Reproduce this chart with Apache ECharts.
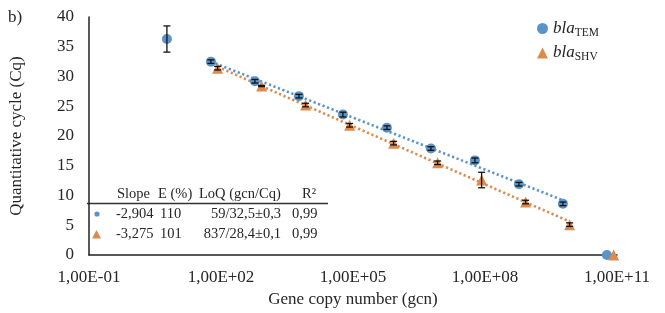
<!DOCTYPE html>
<html>
<head>
<meta charset="utf-8">
<script src="https://cdn.jsdelivr.net/npm/echarts@6/dist/echarts.min.js"></script>
<style>html,body{margin:0;padding:0;background:#fff}#c{width:665px;height:313px}</style>
</head>
<body>
<div id="c"></div>
<script>
// ---- data ----
const temGcn = [5.9, 59, 590, 5.9e3, 5.9e4, 5.9e5, 5.9e6, 5.9e7, 5.9e8, 5.9e9, 5.9e10];
const temCq  = [36.3, 32.5, 29.2, 26.7, 23.6, 21.4, 17.9, 15.9, 11.9, 8.6, 0];
const temSd  = [2.2, 0.3, 0.3, 0.3, 0.4, 0.3, 0.3, 0.4, 0.3, 0.3, 0];
const shvGcn = [83.7, 837, 8.37e3, 8.37e4, 8.37e5, 8.37e6, 8.37e7, 8.37e8, 8.37e9, 8.37e10];
const shvCq  = [31.4, 28.4, 25.2, 21.8, 18.8, 15.5, 12.6, 8.9, 5.1, 0];
const shvSd  = [0.3, 0.1, 0.3, 0.3, 0.3, 0.3, 1.3, 0.3, 0.3, 0];
const temFitIdx = [1, 9];   // points used for the trendline (first..last)
const shvFitIdx = [0, 8];
const xTickExp = [-1, 2, 5, 8, 11];
const xTickLabels = ['1,00E-01', '1,00E+02', '1,00E+05', '1,00E+08', '1,00E+11'];
const tableHeader = ['Slope', 'E (%)', 'LoQ (gcn/Cq)', 'R²'];
const tableTem = ['-2,904', '110', '59/32,5±0,3', '0,99'];
const tableShv = ['-3,275', '101', '837/28,4±0,1', '0,99'];

const BLUE = '#5b93c7', ORANGE = '#dc8a4e', TXT = '#262626';
const SERIF = '"Liberation Serif", "Times New Roman", serif';

function fit(xs, ys, a, b) {
  const lx = [], ly = [];
  for (let i = a; i <= b; i++) { lx.push(Math.log10(xs[i])); ly.push(ys[i]); }
  const n = lx.length;
  const mx = lx.reduce((s, v) => s + v, 0) / n, my = ly.reduce((s, v) => s + v, 0) / n;
  let sxy = 0, sxx = 0;
  for (let i = 0; i < n; i++) { sxy += (lx[i] - mx) * (ly[i] - my); sxx += (lx[i] - mx) ** 2; }
  const k = sxy / sxx, c = my - k * mx;
  return [[xs[a], k * lx[0] + c], [xs[b], k * lx[n - 1] + c]];
}
function errData(xs, ys, sd) {
  const out = [];
  for (let i = 0; i < xs.length; i++) if (sd[i] > 0) out.push([xs[i], ys[i] - sd[i], ys[i] + sd[i]]);
  return out;
}
function errRender(params, api) {
  const x = api.value(0);
  const top = api.coord([x, api.value(2)]);
  const bot = api.coord([x, api.value(1)]);
  const w = 3.5;
  const st = { stroke: '#111', lineWidth: 1.3 };
  return { type: 'group', children: [
    { type: 'line', shape: { x1: top[0], y1: top[1], x2: bot[0], y2: bot[1] }, style: st },
    { type: 'line', shape: { x1: top[0] - w, y1: top[1], x2: top[0] + w, y2: top[1] }, style: st },
    { type: 'line', shape: { x1: bot[0] - w, y1: bot[1], x2: bot[0] + w, y2: bot[1] }, style: st }
  ]};
}

const chart = echarts.init(document.getElementById('c'), null, { renderer: 'canvas' });

const colX = [116, 160, 281, 292];
const colAlign = ['left', 'left', 'right', 'left'];
const hdrX = [117, 158, 199, 302];
const TF = '14.5px ' + SERIF;
const graphics = [
  { type: 'text', x: 8, y: 18, style: { text: 'b)', font: '17px ' + SERIF, fill: TXT, verticalAlign: 'middle' } },
  { type: 'line', shape: { x1: 87, y1: 203.5, x2: 328, y2: 203.5 }, style: { stroke: '#333', lineWidth: 1.5 } },
  { type: 'circle', shape: { cx: 97, cy: 214, r: 2.6 }, style: { fill: BLUE } },
  { type: 'polygon', shape: { points: [[92, 238.5], [101, 238.5], [96.5, 230]] }, style: { fill: ORANGE } }
];
tableHeader.forEach((t, i) => graphics.push({ type: 'text', x: hdrX[i], y: 194,
  style: { text: t, font: TF, fill: TXT, verticalAlign: 'middle', align: 'left' } }));
tableTem.forEach((t, i) => graphics.push({ type: 'text', x: colX[i], y: 214,
  style: { text: t, font: TF, fill: TXT, verticalAlign: 'middle', align: colAlign[i] } }));
tableShv.forEach((t, i) => graphics.push({ type: 'text', x: colX[i], y: 234,
  style: { text: t, font: TF, fill: TXT, verticalAlign: 'middle', align: colAlign[i] } }));

chart.setOption({
  animation: false,
  backgroundColor: '#fff',
  grid: { left: 87, right: 48, top: 17, bottom: 58 },
  legend: {
    orient: 'vertical', left: 532, top: 15, itemGap: 6,
    data: [
      { name: 'blaTEM', icon: 'circle', itemStyle: { color: BLUE } },
      { name: 'blaSHV', icon: 'triangle', itemStyle: { color: ORANGE } }
    ],
    itemWidth: 11, itemHeight: 11,
    formatter: n => '{i|bla}{s|' + n.slice(3) + '}',
    textStyle: {
      rich: {
        i: { fontFamily: SERIF, fontStyle: 'italic', fontSize: 17, color: TXT },
        s: { fontFamily: SERIF, fontSize: 11.5, color: TXT, padding: [8, 0, 0, 0] }
      }
    }
  },
  xAxis: {
    type: 'log', logBase: 10, min: 0.1, max: 1e11, interval: 1,
    name: 'Gene copy number (gcn)', nameLocation: 'middle', nameGap: 33,
    nameTextStyle: { fontFamily: SERIF, fontSize: 17, color: TXT },
    axisLine: { show: true, lineStyle: { color: '#222', width: 1.5 } },
    axisTick: { show: false },
    splitLine: { show: false },
    axisLabel: {
      interval: 0, margin: 14, fontFamily: SERIF, fontSize: 17, color: TXT, hideOverlap: false,
      formatter: v => { const e = Math.round(Math.log10(v)); const k = xTickExp.indexOf(e); return k >= 0 ? xTickLabels[k] : ''; }
    }
  },
  yAxis: {
    type: 'value', min: 0, max: 40, interval: 5,
    name: 'Quantitative cycle (Cq)', nameLocation: 'middle', nameGap: 64,
    nameTextStyle: { fontFamily: SERIF, fontSize: 17, color: TXT },
    axisLine: { show: true, lineStyle: { color: '#222', width: 1.5 } },
    axisTick: { show: false },
    splitLine: { show: false },
    axisLabel: { margin: 15, fontFamily: SERIF, fontSize: 17, color: TXT }
  },
  series: [
    { name: 'blaTEM-fit', type: 'line', data: fit(temGcn, temCq, temFitIdx[0], temFitIdx[1]), symbol: 'none',
      lineStyle: { color: BLUE, width: 2.6, type: [2.2, 2.6] }, z: 1, silent: true },
    { name: 'blaSHV-fit', type: 'line', data: fit(shvGcn, shvCq, shvFitIdx[0], shvFitIdx[1]), symbol: 'none',
      lineStyle: { color: ORANGE, width: 2.6, type: [2.2, 2.6] }, z: 1, silent: true },
    { name: 'blaTEM', type: 'scatter', data: temGcn.map((g, i) => [g, temCq[i]]), symbol: 'circle', symbolSize: 10,
      itemStyle: { color: BLUE, opacity: 1 }, z: 3 },
    { name: 'blaSHV', type: 'scatter', data: shvGcn.map((g, i) => [g, shvCq[i]]), symbol: 'triangle', symbolSize: 11,
      itemStyle: { color: ORANGE, opacity: 1 }, z: 3 },
    { type: 'custom', data: errData(temGcn, temCq, temSd), renderItem: errRender, z: 4, silent: true },
    { type: 'custom', data: errData(shvGcn, shvCq, shvSd), renderItem: errRender, z: 4, silent: true }
  ],
  graphic: graphics
});
</script>
</body>
</html>
